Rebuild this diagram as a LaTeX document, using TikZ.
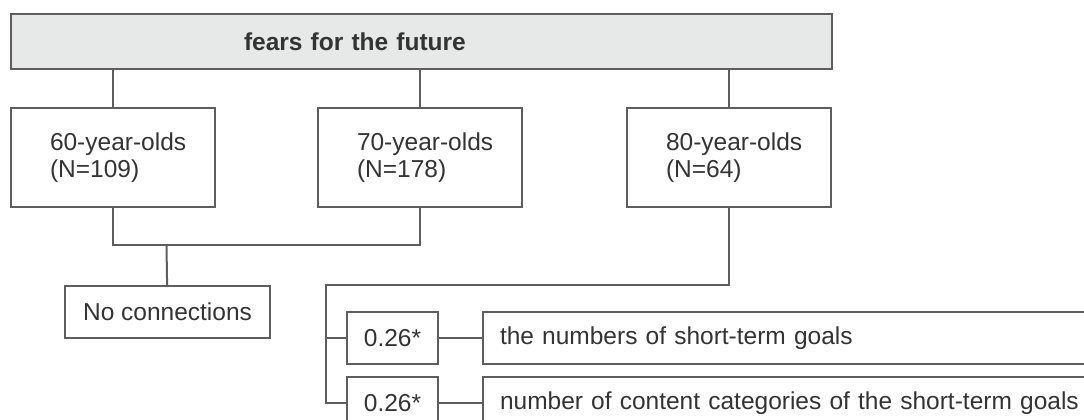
\documentclass[tikz,border=0pt]{standalone}
\usepackage{fontspec}
\setmainfont{Liberation Sans}
\usetikzlibrary{positioning}
\hyphenpenalty=10000
\exhyphenpenalty=10000
\definecolor{linegray}{HTML}{5E5E5E}
\definecolor{textgray}{HTML}{333333}
\definecolor{headfill}{HTML}{E7E8E8}
\tikzstyle{box} = [rectangle, 
anchor=north west, 
draw=linegray, 
line width=2pt, 
text=textgray, 
font=\fontsize{24.5}{27}\selectfont]
\tikzstyle{headbox} = [box, 
fill=headfill, 
minimum height=55pt, 
text width=355pt, 
inner xsep=233pt, 
align=left, 
font=\fontsize{24.5}{27}\selectfont\bfseries]
\tikzstyle{agebox} = [box, 
minimum height=99pt, 
text width=126pt, 
inner xsep=39pt, 
align=left]
\tikzstyle{resultbox} = [box, 
minimum width=205pt, 
minimum height=52pt, 
align=center]
\tikzstyle{coefbox} = [box, 
minimum width=91pt, 
minimum height=52pt, 
align=center]
\tikzstyle{goalbox} = [box, 
minimum height=52pt, 
text width=666pt, 
inner xsep=17pt, 
align=left]
\tikzstyle{link} = [draw=linegray, line width=2pt]

\begin{document}
\begin{tikzpicture}[x=1pt, y=-1pt]
		\useasboundingbox (0,0) rectangle (1084,420);
		\clip (0,0) rectangle (1084,420);
		
		\node (title) [headbox] at (10,13) {fears for the future};
		
		\node (g60) [agebox] at (10,107) {60-year-olds\\(N=109)};
		\node (g70) [agebox] at (317,107) {70-year-olds\\(N=178)};
		\node (g80) [agebox] at (626,107) {80-year-olds\\(N=64)};
		
		\node (nocon) [resultbox] at (64,285) {No connections};
		
		\node (r1) [coefbox] at (346,311) {0.26*};
		\node (r2) [coefbox] at (346,376) {0.26*};
		\node (t1) [goalbox] at (482,311) {the numbers of short-term goals};
		\node (t2) [goalbox] at (482,376) {number of content categories of the short-term goals};
		
		\coordinate (join) at (166.5,245);
		\coordinate (brk) at (326,285);
		
		\draw [link] (g60.north) -- (g60.north |- title.south);
		\draw [link] (g70.north) -- (g70.north |- title.south);
		\draw [link] (g80.north) -- (g80.north |- title.south);
		
		\draw [link] (g60.south) |- (join) -| (g70.south);
		\draw [link] (join) -- (nocon);
		
		\draw [link] (g80.south) |- (brk) -- (brk |- r2.west) -- (r2.west);
		\draw [link] (brk |- r1.west) -- (r1.west);
		\draw [link] (r1) -- (t1);
		\draw [link] (r2) -- (t2);
		
	\end{tikzpicture}
\end{document}
